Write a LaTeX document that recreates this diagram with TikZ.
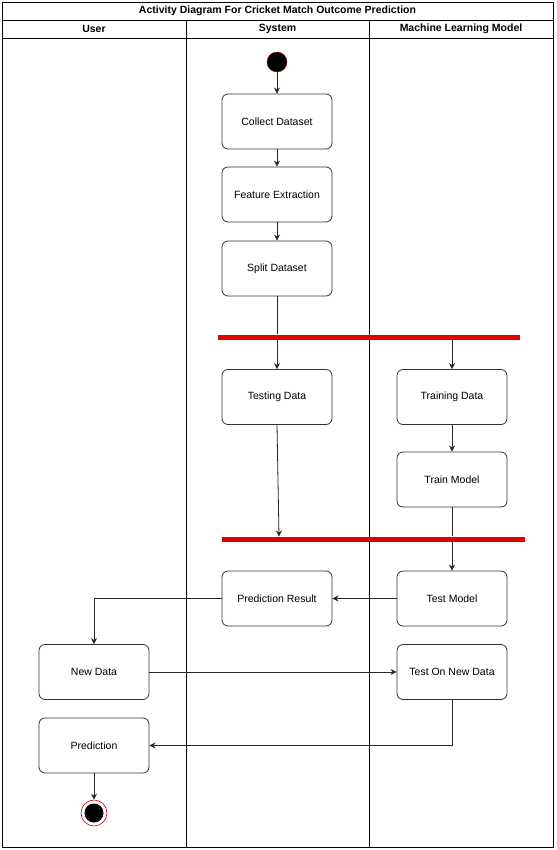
\documentclass[tikz,border=0pt]{standalone}
\usepackage{fontspec}
\setmainfont{Liberation Sans}
\usetikzlibrary{arrows.meta}
\begin{document}
\begin{tikzpicture}[x=1pt,y=-1pt,
  act/.style={draw=black!80,rounded corners=6pt,minimum width=110pt,minimum height=55pt,font=\fontsize{10.5}{12}\selectfont,align=center,thick},
  lane/.style={draw=black,line width=0.8pt},
  flow/.style={draw=black!85,line width=0.8pt,-{Stealth[length=6pt,width=6pt]}},
  plain/.style={draw=black!85,line width=0.8pt},
  bar/.style={draw=none,fill=red!90!black,minimum height=5pt,inner sep=0pt},
  hdr/.style={font=\bfseries\fontsize{10.5}{12}\selectfont}]
\useasboundingbox (0,0) rectangle (556,850);
\fill[white] (0,0) rectangle (556,850);
% swimlane frame
\draw[lane] (2,2) rectangle (553,847);
\draw[lane] (2,20) -- (553,20);
\draw[lane] (2,38) -- (553,38);
\draw[lane] (186,20) -- (186,847);
\draw[lane] (369,20) -- (369,847);
\node[hdr] (title) at (277.5,11) {Activity Diagram For Cricket Match Outcome Prediction};
\node[hdr] (huser) at (94,29) {User};
\node[hdr] (hsys) at (277.5,29) {System};
\node[hdr] (hml) at (461,29) {Machine Learning Model};
% nodes
\node[circle,fill=black,draw=red!60!black,minimum size=20pt,inner sep=0pt] (start) at (277,62) {};
\node[act] (collect) at (277,121.5) {Collect Dataset};
\node[act] (feature) at (277,194.5) {Feature Extraction};
\node[act] (split) at (277,268.5) {Split Dataset};
\node[bar,minimum width=302pt] (fork1) at (369,337) {};
\node[act] (testing) at (277,397) {Testing Data};
\node[act] (training) at (452,397) {Training Data};
\node[act] (train) at (452,479.5) {Train Model};
\node[bar,minimum width=303pt] (fork2) at (373.5,539) {};
\node[act] (predres) at (277,598.5) {Prediction Result};
\node[act] (testmodel) at (452,598.5) {Test Model};
\node[act] (newdata) at (94,672) {New Data};
\node[act] (testnew) at (452,672) {Test On New Data};
\node[act] (pred) at (94,745.5) {Prediction};
\node[circle,draw=red!80!black,fill=white,minimum size=26pt,inner sep=0pt,line width=0.6pt] (endo) at (94,813) {};
\node[circle,fill=black,minimum size=19pt,inner sep=0pt] (endi) at (94,813) {};
% edges
\draw[flow] (start) -- (collect);
\draw[flow] (collect) -- (feature);
\draw[flow] (feature) -- (split);
\draw[plain] (split.south) -- (split.south |- fork1.north);
\draw[flow] (split.south |- fork1.south) -- (testing);
\draw[flow] (training.north |- fork1.south) -- (training);
\draw[flow] (testing.south) -- (279,536.5);
\draw[flow] (training) -- (train);
\draw[plain] (train.south) -- (train.south |- fork2.north);
\draw[flow] (testmodel.north |- fork2.south) -- (testmodel);
\draw[flow] (testmodel) -- (predres);
\draw[flow] (predres.west) -| (newdata.north);
\draw[flow] (newdata) -- (testnew);
\draw[flow] (testnew.south) |- (pred.east);
\draw[flow] (pred) -- (endo);
\end{tikzpicture}
\end{document}
